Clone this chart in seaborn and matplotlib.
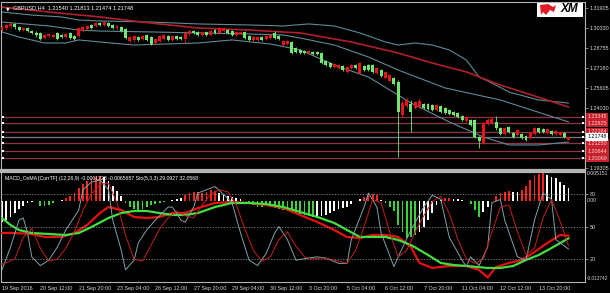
import numpy as np
import matplotlib
matplotlib.use("Agg")
import matplotlib.pyplot as plt
import seaborn as sns
from matplotlib.patches import Rectangle, Polygon

# ---------------- data ----------------
opens = [1.3017,1.3033,1.3049,1.3065,1.3041,1.3017,1.3033,1.3009,1.2994,1.2994,
         1.2954,1.2970,1.2962,1.2994,1.2978,1.2962,1.2994,1.2970,1.2970,1.3009,
         1.3025,1.3057,1.3049,1.3072,1.3057,1.3072,1.3057,1.3033,1.3041,1.3025,
         1.2931,1.2939,1.2962,1.2946,1.2978,1.2962,1.2915,1.2931,1.2946,1.2970,
         1.2939,1.2970,1.2962,1.2946,1.2986,1.3009,1.3002,1.2978,1.3002,1.2978,
         1.3017,1.2994,1.3009,1.3017,1.3009,1.2978,1.2986,1.3002,1.2970,1.2939,
         1.2939,1.2962,1.2946,1.2954,1.2994,1.2970,1.2899,1.2907,1.2923,1.2876,
         1.2860,1.2852,1.2836,1.2844,1.2844,1.2836,1.2773,1.2757,1.2726,1.2718,
         1.2734,1.2687,1.2718,1.2742,1.2679,1.2734,1.2742,1.2742,1.2679,1.2702,
         1.2639,1.2616,1.2639,1.2608,1.2348,1.2419,1.2435,1.2403,1.2411,1.2435,
         1.2435,1.2427,1.2387,1.2419,1.2403,1.2387,1.2372,1.2364,1.2340,1.2301,
         1.2309,1.2309,1.2175,1.2127,1.2277,1.2285,1.2293,1.2246,1.2198,1.2254,
         1.2206,1.2190,1.2198,1.2183,1.2167,1.2198,1.2246,1.2238,1.2206,1.2222,
         1.2198,1.2190,1.2206,1.21540]
closes = [1.3041,1.3057,1.3065,1.3041,1.3017,1.3033,1.3009,1.2994,1.2978,1.2946,
          1.2978,1.2986,1.2978,1.2946,1.2962,1.2986,1.2954,1.2946,1.3033,1.3041,
          1.3049,1.3033,1.3072,1.3057,1.3080,1.3049,1.3033,1.3049,1.3009,1.2954,
          1.2962,1.2970,1.2939,1.2970,1.2939,1.2907,1.2946,1.2970,1.2978,1.2939,
          1.2970,1.2946,1.2946,1.2994,1.3009,1.2994,1.2978,1.3002,1.2978,1.3009,
          1.2994,1.3033,1.3033,1.2994,1.2978,1.3002,1.3002,1.2954,1.2939,1.2962,
          1.2962,1.2939,1.2970,1.2978,1.2954,1.2946,1.2931,1.2931,1.2836,1.2844,
          1.2836,1.2836,1.2852,1.2828,1.2828,1.2757,1.2742,1.2726,1.2750,1.2742,
          1.2702,1.2726,1.2742,1.2718,1.2757,1.2702,1.2702,1.2687,1.2718,1.2655,
          1.2687,1.2663,1.2592,1.2372,1.2442,1.2466,1.2372,1.2450,1.2458,1.2403,
          1.2395,1.2387,1.2427,1.2372,1.2364,1.2356,1.2348,1.2332,1.2309,1.2332,
          1.2269,1.2175,1.2143,1.2285,1.2309,1.2316,1.2246,1.2198,1.2246,1.2214,
          1.2175,1.2230,1.2167,1.2151,1.2206,1.2246,1.2214,1.2214,1.2238,1.2198,
          1.2222,1.2214,1.2175,1.21748]
highs = [1.3057,1.3065,1.3080,1.3072,1.3049,1.3041,1.3041,1.3017,1.3009,1.3002,
         1.2986,1.2994,1.2986,1.3002,1.2986,1.2994,1.3002,1.2978,1.3041,1.3049,
         1.3057,1.3065,1.3080,1.3080,1.3088,1.3080,1.3065,1.3057,1.3049,1.3033,
         1.2970,1.2978,1.2970,1.2978,1.2986,1.2970,1.2954,1.2978,1.2986,1.2978,
         1.2978,1.2978,1.2970,1.3009,1.3017,1.3017,1.3009,1.3009,1.3009,1.3017,
         1.3025,1.3041,1.3041,1.3025,1.3017,1.3009,1.3009,1.3009,1.2978,1.2970,
         1.2970,1.2970,1.2978,1.2986,1.3009,1.2978,1.2939,1.2939,1.2931,1.2883,
         1.2868,1.2860,1.2860,1.2852,1.2852,1.2844,1.2781,1.2765,1.2757,1.2750,
         1.2742,1.2734,1.2750,1.2750,1.2765,1.2742,1.2750,1.2750,1.2726,1.2710,
         1.2694,1.2671,1.2647,1.2624,1.2466,1.2482,1.2466,1.2458,1.2474,1.2442,
         1.2442,1.2435,1.2435,1.2427,1.2411,1.2395,1.2379,1.2372,1.2348,1.2340,
         1.2316,1.2316,1.2183,1.2293,1.2324,1.2332,1.2340,1.2254,1.2254,1.2261,
         1.2214,1.2238,1.2206,1.2190,1.2214,1.2254,1.2254,1.2246,1.2246,1.2230,
         1.2230,1.2222,1.2214,1.21813]
lows = [1.3009,1.3017,1.3033,1.3025,1.3009,1.3009,1.3002,1.2986,1.2962,1.2939,
        1.2946,1.2962,1.2954,1.2939,1.2954,1.2954,1.2946,1.2939,1.2962,1.3002,
        1.3017,1.3025,1.3041,1.3049,1.3049,1.3041,1.3025,1.3025,1.3002,1.2946,
        1.2923,1.2931,1.2931,1.2939,1.2931,1.2899,1.2907,1.2923,1.2939,1.2931,
        1.2931,1.2939,1.2939,1.2915,1.2978,1.2986,1.2970,1.2970,1.2970,1.2970,
        1.2986,1.2986,1.3002,1.2986,1.2970,1.2970,1.2978,1.2946,1.2931,1.2931,
        1.2931,1.2931,1.2939,1.2946,1.2946,1.2939,1.2891,1.2899,1.2828,1.2836,
        1.2828,1.2828,1.2828,1.2821,1.2821,1.2750,1.2734,1.2718,1.2718,1.2710,
        1.2694,1.2679,1.2710,1.2710,1.2671,1.2694,1.2694,1.2679,1.2671,1.2647,
        1.2631,1.2608,1.2584,1.2017,1.2332,1.2403,1.2214,1.2395,1.2403,1.2395,
        1.2387,1.2379,1.2379,1.2364,1.2356,1.2348,1.2340,1.2324,1.2301,1.2293,
        1.2261,1.2167,1.2088,1.2120,1.2269,1.2277,1.2230,1.2190,1.2190,1.2206,
        1.2167,1.2183,1.2159,1.2143,1.2159,1.2190,1.2206,1.2206,1.2198,1.2190,
        1.2190,1.2183,1.2167,1.21474]

# Moving average and Bollinger bands (bar index, price)
ma_idx = [0, 11, 23, 35, 46, 58, 70, 82, 93, 101, 109, 117, 125, 133]
ma_val = [1.3198, 1.3159, 1.3120, 1.3072, 1.3033, 1.3017, 1.2994, 1.2923, 1.2836,
          1.2757, 1.2687, 1.2584, 1.2498, 1.2411]
bb_up_idx = [0, 7, 14, 18, 23, 35, 46, 58, 66, 72, 78, 84, 90, 93, 97, 101, 105,
             109, 112, 115, 119, 126, 133]
bb_up_val = [1.3159, 1.3135, 1.3120, 1.3096, 1.3088, 1.3080, 1.3065, 1.3057, 1.3049,
             1.3065, 1.3049, 1.2994, 1.2923, 1.2899, 1.2915, 1.2899, 1.2860, 1.2781,
             1.2647, 1.2600, 1.2529, 1.2466, 1.2442]
bb_mid_idx = [0, 11, 18, 23, 35, 46, 58, 66, 70, 78, 86, 93, 104, 117, 133]
bb_mid_val = [1.3080, 1.3049, 1.3017, 1.3009, 1.3002, 1.2994, 1.2986, 1.2978, 1.2954,
              1.2899, 1.2805, 1.2702, 1.2561, 1.2466, 1.2293]
bb_lo_idx = [0, 4, 10, 15, 18, 23, 31, 46, 54, 63, 70, 78, 86, 93, 96, 105, 113,
             119, 126, 133]
bb_lo_val = [1.3002, 1.2962, 1.2915, 1.2915, 1.2939, 1.2923, 1.2899, 1.2915, 1.2939,
             1.2907, 1.2860, 1.2742, 1.2647, 1.2505, 1.2442, 1.2293, 1.2175, 1.2112,
             1.2112, 1.2135]

level_prices = [1.23345, 1.22825, 1.22164, 1.21250, 1.20644, 1.20069]
current_price = 1.21748
price_ticks = [1.31905, 1.30330, 1.28755, 1.27180, 1.25605, 1.24030, 1.19305]

# OsMA histogram (one per bar) and colour code
osma = [-0.00373,-0.00338,-0.00285,-0.00216,-0.00146,-0.00093,-0.00041,-0.00024,-0.00006,-0.00093,
        -0.00093,-0.00076,-0.00041,-0.00006,0.00020,0.00046,0.00081,0.00133,0.00221,0.00291,
        0.00343,0.00378,0.00413,0.00431,0.00413,0.00343,0.00256,0.00168,0.00081,-0.00041,
        -0.00111,-0.00146,-0.00163,-0.00146,-0.00111,-0.00076,-0.00058,-0.00041,-0.00024,-0.00006,
        0.00003,0.00029,0.00046,0.00099,0.00133,0.00151,0.00151,0.00133,0.00151,0.00186,
        0.00168,0.00133,0.00116,0.00081,0.00064,0.00046,0.00029,-0.00006,-0.00041,-0.00076,
        -0.00111,-0.00111,-0.00076,-0.00111,-0.00128,-0.00146,-0.00163,-0.00181,-0.00198,-0.00216,
        -0.00233,-0.00251,-0.00268,-0.00285,-0.00285,-0.00268,-0.00251,-0.00216,-0.00181,-0.00146,
        -0.00128,-0.00111,-0.00058,-0.00006,0.00029,0.00064,0.00099,0.00116,0.00099,0.00011,
        -0.00041,-0.00111,-0.00181,-0.00425,-0.00547,-0.00652,-0.00634,-0.00599,-0.00547,-0.00460,
        -0.00338,-0.00216,-0.00076,0.00011,0.00046,0.00046,0.00029,0.00029,0.00020,-0.00006,
        -0.00058,-0.00163,-0.00285,-0.00198,-0.00111,-0.00006,0.00081,0.00133,0.00151,0.00168,
        0.00151,0.00151,0.00186,0.00256,0.00360,0.00448,0.00465,0.00492,0.00448,0.00413,
        0.00396,0.00325,0.00273,0.00220]
osma_col = ("wwwwwwwwwggggg" + "wrrrrrrrrr" + "wwwww" + "ggggggggggg" + "www" + "rrrrrrrr"
            + "wwwwww" + "ggggggggggggggggg" + "wwwwwwwwwww" + "rrrr" + "w" + "gggggggg"
            + "wwwwww" + "rr" + "www" + "gggg" + "www" + "rrrr" + "ww" + "rrrrrr" + "wwwwww")

# MACD main / signal (thick lines), MACD units
macd_idx = [0, 3, 7, 10, 14, 17, 20, 23, 25, 28, 31, 34, 37, 40, 43, 46, 50, 54, 58, 62,
            66, 70, 74, 78, 81, 84, 87, 90, 93, 96, 98, 101, 105, 109, 112, 114, 116, 119,
            122, 125, 128, 131, 133]
macd_val = [-0.00565, -0.00565, -0.00582, -0.00634, -0.00634, -0.00565, -0.00425, -0.00216,
            -0.00111, -0.00163, -0.00285, -0.00303, -0.00285, -0.00216, -0.00216, -0.00128,
            -0.00041, -0.00024, -0.00041, -0.00076, -0.00128, -0.00250, -0.00373, -0.00513,
            -0.00634, -0.00652, -0.00600, -0.00600, -0.00634, -0.00809, -0.01088, -0.01175,
            -0.01140, -0.01140, -0.01210, -0.01340, -0.01158, -0.01088, -0.01036, -0.00896,
            -0.00739, -0.00600, -0.0061228]
sig_idx = [0, 2, 4, 7, 11, 15, 18, 21, 25, 28, 31, 34, 37, 40, 43, 46, 50, 54, 58, 62,
           66, 70, 74, 78, 81, 84, 87, 90, 93, 96, 100, 103, 106, 109, 114, 117, 120, 123,
           126, 129, 133]
sig_val = [-0.00303, -0.00425, -0.00513, -0.00565, -0.00582, -0.00600, -0.00565, -0.00460,
           -0.00303, -0.00216, -0.00181, -0.00181, -0.00216, -0.00250, -0.00250, -0.00216,
           -0.00111, -0.00041, -0.00041, -0.00058, -0.00111, -0.00198, -0.00285, -0.00390,
           -0.00513, -0.00634, -0.00634, -0.00634, -0.00687, -0.00774, -0.00948, -0.01088,
           -0.01123, -0.01140, -0.01175, -0.01175, -0.01140, -0.01036, -0.00948, -0.00826,
           -0.0065657]

# Stochastic %K and %D
stk_idx = [0, 2, 4, 5, 6, 7, 9, 11, 13, 15, 18, 19, 21, 23, 25, 26, 28, 29, 31, 32, 34,
           36, 39, 40, 42, 43, 45, 46, 50, 53, 54, 56, 58, 60, 62, 64, 65, 67, 69, 72, 74,
           76, 79, 81, 82, 85, 86, 88, 89, 92, 93, 96, 99, 101, 103, 105, 108, 109, 110,
           112, 114, 115, 117, 118, 121, 123, 125, 127, 129, 130, 133]
stk_val = [10, 31, 56, 58, 44, 22, 14, 19, 31, 47, 65, 84, 91, 93, 84, 56, 28, 10, 19, 35,
           47, 56, 68, 68, 56, 54, 68, 81, 87, 76, 72, 44, 19, 14, 25, 44, 50, 38, 19, 21,
           22, 21, 16, 16, 38, 68, 81, 68, 44, 13, 22, 47, 68, 79, 75, 40, 19, 13, 22, 14,
           31, 72, 75, 56, 22, 19, 56, 81, 75, 38, 29.09]
std_idx = [0, 3, 5, 7, 9, 11, 13, 15, 17, 19, 21, 23, 25, 27, 29, 31, 33, 35, 37, 39, 41,
           43, 45, 47, 49, 51, 53, 55, 57, 59, 61, 63, 65, 67, 69, 71, 73, 75, 77, 79, 81,
           83, 85, 87, 89, 91, 93, 95, 97, 99, 101, 103, 105, 107, 109, 111, 113, 115, 117,
           119, 121, 123, 125, 127, 129, 131, 133]
std_val = [15, 20, 40, 48, 30, 18, 20, 30, 45, 65, 80, 89, 90, 72, 42, 20, 18, 33, 48, 58,
           64, 60, 58, 70, 80, 84, 82, 70, 48, 28, 18, 22, 38, 45, 32, 22, 20, 21, 20, 18,
           16, 28, 50, 75, 72, 45, 22, 28, 45, 60, 73, 78, 62, 38, 20, 16, 20, 45, 68, 70,
           45, 24, 30, 58, 75, 55, 32.06]

time_labels = ['19 Sep 2016', '20 Sep 12:00', '21 Sep 20:00', '23 Sep 04:00', '26 Sep 12:00',
               '27 Sep 20:00', '29 Sep 04:00', '30 Sep 12:00', '3 Oct 20:00', '5 Oct 04:00',
               '6 Oct 12:00', '7 Oct 20:00', '11 Oct 04:00', '12 Oct 12:00', '13 Oct 20:00']
time_label_idx = [0, 9, 18, 27, 36, 45, 54, 63, 72, 81, 90, 99, 108, 117, 126]

title_text = "GBPUSD,H4  1.21540 1.21813 1.21474 1.21748"
sub_text = "MACD_OsMA [CurrTF] (12,26,9) -0.0061228 -0.0065657 Sto(5,3,3) 29.0927 32.0568"

# ---------------- styling ----------------
sns.set_style("dark")
plt.rcParams['font.family'] = ['Liberation Sans', 'DejaVu Sans']
BULL = '#e8141c'
BEAR = '#72e872'
BB_COL = '#5f8a96'
FRAME = '#b4b4b4'
TXT = '#d8d8d8'

W, Hh = 610, 293
fig = plt.figure(figsize=(6.1, 2.93), dpi=100, facecolor='black')
ax = fig.add_axes([1 / W, 1 - 170 / Hh, 584 / W, 168 / Hh])
ax2 = fig.add_axes([1 / W, 1 - 282 / Hh, 584 / W, 110 / Hh])
for a in (ax, ax2):
    a.set_facecolor('black')
    for s in a.spines.values():
        s.set_color(FRAME)
        s.set_linewidth(0.8)
ax.spines['bottom'].set_linewidth(1.6)
ax2.spines['top'].set_linewidth(1.6)

X0, X1 = -0.23, 136.85
idx = np.arange(len(opens))
O = np.array(opens); C = np.array(closes); H = np.array(highs); L = np.array(lows)
cols = np.where(C >= O, BULL, BEAR)

# ---- main panel ----
for lv in level_prices:
    ax.axhline(lv, color='#8e3446', lw=0.9, zorder=1)
ax.axhline(current_price, color='#7a7a7a', lw=0.9, zorder=1)

sns.lineplot(x=bb_up_idx, y=bb_up_val, ax=ax, color=BB_COL, lw=0.8, estimator=None, zorder=2)
sns.lineplot(x=bb_mid_idx, y=bb_mid_val, ax=ax, color=BB_COL, lw=0.8, estimator=None, zorder=2)
sns.lineplot(x=bb_lo_idx, y=bb_lo_val, ax=ax, color=BB_COL, lw=0.8, estimator=None, zorder=2)
sns.lineplot(x=ma_idx, y=ma_val, ax=ax, color='#b0202a', lw=1.2, estimator=None, zorder=2)

ax.vlines(idx, L, H, colors=cols, lw=0.6, zorder=3)
body = np.maximum(np.abs(C - O), 0.00012)
ax.bar(idx, body, bottom=np.minimum(O, C), width=0.7, color=cols, lw=0, zorder=4)

# small markers at level ends
lv_all = level_prices + [current_price]
ax.scatter([0.25] * len(lv_all), lv_all, marker='s', s=2.5, color='white', zorder=5, lw=0)
ax.scatter([136.4] * len(lv_all), lv_all, marker='s', s=2.5, color='white', zorder=5, lw=0)

ax.set_xlim(X0, X1)
ax.set_ylim(1.19148, 1.32378)
ax.set_xticks([])
ax.yaxis.tick_right()
ax.set_yticks(price_ticks)
ax.set_yticklabels([f'{p:.5f}' for p in price_ticks])
ax.tick_params(axis='y', length=2, pad=1.5, labelsize=3.9, labelcolor=TXT, color=FRAME, width=0.5)
ax.set_xlabel(''); ax.set_ylabel('')

ytr = ax.get_yaxis_transform()
for lv in level_prices:
    ax.text(1.0045, lv, f'{lv:.5f}', transform=ytr, fontsize=3.9, color='#ffd0d0',
            va='center', ha='left', clip_on=False, zorder=6,
            bbox=dict(boxstyle='square,pad=0.25', fc='#c8202c', ec='none'))
ax.text(1.0045, current_price, f'{current_price:.5f}', transform=ytr, fontsize=3.9,
        color='black', va='center', ha='left', clip_on=False, zorder=7,
        bbox=dict(boxstyle='square,pad=0.25', fc='white', ec='none'))

ax.text(0.009, 0.975, "\u25bc", transform=ax.transAxes, fontsize=3.5, color='white',
        va='top', ha='left', family=['DejaVu Sans'])
ax.text(0.020, 0.978, title_text, transform=ax.transAxes, fontsize=4.0, color='white',
        va='top', ha='left')

# ---- lower panel ----
hist_colors = {'r': '#ff2020', 'w': '#ffffff', 'g': '#3cd23c'}
ax2.bar(idx, osma, width=0.42, color=[hist_colors[c] for c in osma_col], lw=0, zorder=2)
sns.lineplot(x=macd_idx, y=macd_val, ax=ax2, color='#e81010', lw=1.6, estimator=None, zorder=4)
sns.lineplot(x=sig_idx, y=sig_val, ax=ax2, color='#40e040', lw=1.6, estimator=None, zorder=4)
ax2.set_ylim(-0.0142, 0.0050)
ax2.set_xlim(X0, X1)
ax2.set_yticks([])
ax2.set_xticks(time_label_idx)
ax2.set_xticklabels(time_labels, ha='left')
ax2.tick_params(axis='x', length=2, pad=1.2, labelsize=3.9, labelcolor=TXT, color=FRAME, width=0.5)
ax2.set_xlabel(''); ax2.set_ylabel('')

ax3 = ax2.twinx()
ax3.patch.set_visible(False)
for s in ax3.spines.values():
    s.set_visible(False)
for lvl in (80, 50, 20):
    ax3.axhline(lvl, color='#9a9a9a', lw=0.5, ls=(0, (2, 2)), zorder=1)
sns.lineplot(x=stk_idx, y=stk_val, ax=ax3, color='#7fa3a8', lw=0.7, estimator=None, zorder=3)
sns.lineplot(x=std_idx, y=std_val, ax=ax3, color='#c42020', lw=0.7, estimator=None, zorder=3)
ax3.set_ylim(-1.2, 100.4)
ax3.set_xlim(X0, X1)
ax3.set_yticks([80, 50, 20])
ax3.set_yticklabels(['80', '50', '20'])
ax3.tick_params(axis='y', length=2, pad=1.5, labelsize=3.9, labelcolor=TXT, color=FRAME, width=0.5)
ax3.set_xlabel(''); ax3.set_ylabel('')

ax2.text(1.0035, 0.985, '0.005151', transform=ax2.transAxes, fontsize=3.7, color=TXT,
         va='center', ha='left', clip_on=False)
ax2.text(1.0035, 0.745, '0.00', transform=ax2.transAxes, fontsize=3.7, color=TXT,
         va='center', ha='left', clip_on=False)
ax2.text(1.0025, 0.028, '-0.013742', transform=ax2.transAxes, fontsize=3.4, color=TXT,
         va='center', ha='left', clip_on=False)
ax2.text(0.006, 0.965, sub_text, transform=ax2.transAxes, fontsize=3.7, color='white',
         va='top', ha='left', zorder=6)

# ---- XM logo ----
fig.add_artist(Rectangle((537 / W, 1 - 17 / Hh), 46 / W, 14 / Hh, transform=fig.transFigure,
                         fc='white', ec='none'))
pts = [(540, 5), (548, 4), (553, 7), (556, 5), (554, 12), (550, 10), (546, 15), (543, 12), (541, 15)]
fig.add_artist(Polygon([(x / W, 1 - y / Hh) for x, y in pts], closed=True,
                       transform=fig.transFigure, fc='#e31b23', ec='none'))
fig.text(569 / W, 1 - 9.5 / Hh, 'XM', fontsize=8.5, fontweight='bold', style='italic',
         color='black', ha='center', va='center')

fig.savefig('out.png', dpi=100, facecolor='black')
